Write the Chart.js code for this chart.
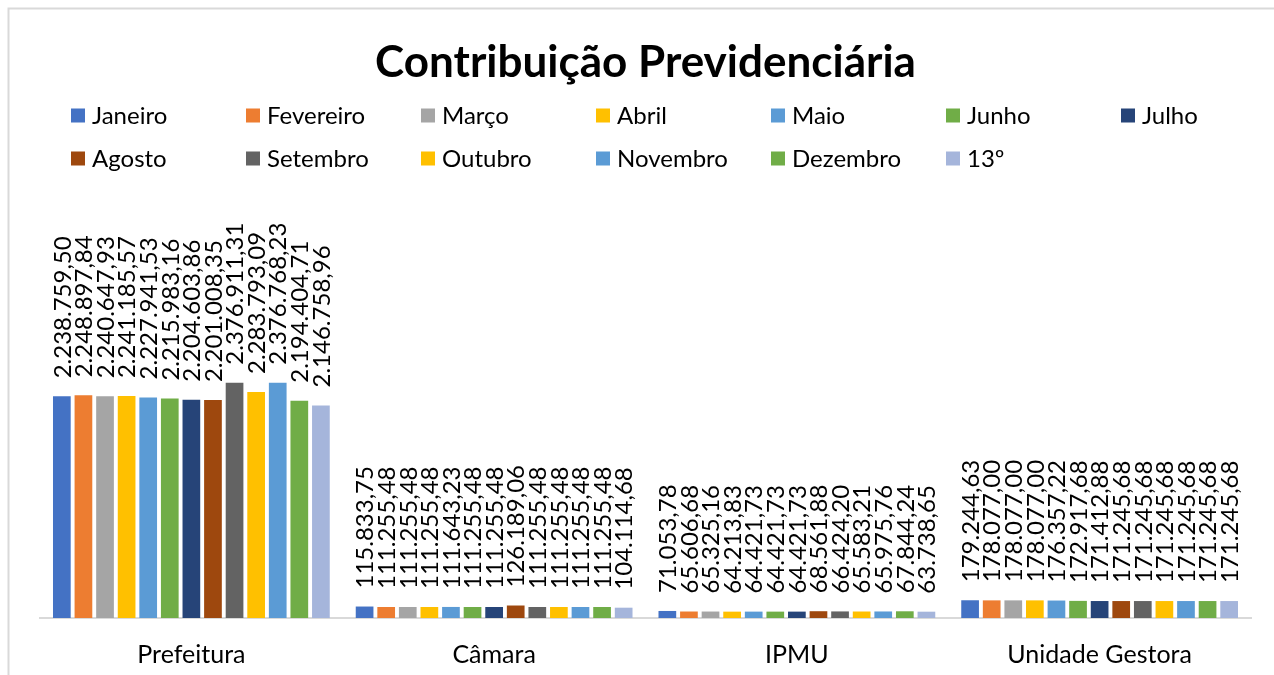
<!DOCTYPE html>
<html>
<head>
<meta charset="utf-8">
<title>Contribuição Previdenciária</title>
<script src="https://cdn.jsdelivr.net/npm/chart.js@4/dist/chart.umd.min.js"></script>
<style>
    html, body { margin: 0; padding: 0; background: #fff; }
    #wrap { width: 1274px; height: 675px; }
</style>
</head>
<body>
<div id="wrap"><canvas id="myChart" width="1274" height="675"></canvas></div>
<script>
//categories (orgaos)
const categories = ["Prefeitura", "Câmara", "IPMU", "Unidade Gestora"];

//months / series
const months = ["Janeiro", "Fevereiro", "Março", "Abril", "Maio", "Junho", "Julho",
    "Agosto", "Setembro", "Outubro", "Novembro", "Dezembro", "13º"];

const monthColors = ["#4472C4", "#ED7D31", "#A5A5A5", "#FFC000", "#5B9BD5", "#70AD47", "#264478",
    "#9E480E", "#636363", "#FFC000", "#5B9BD5", "#70AD47", "#A5B5DB"];

//values per orgao, one entry per month
const prefeitura = [2238759.50, 2248897.84, 2240647.93, 2241185.57, 2227941.53, 2215983.16, 2204603.86,
    2201008.35, 2376911.31, 2283793.09, 2376768.23, 2194404.71, 2146758.96];
const camara = [115833.75, 111255.48, 111255.48, 111255.48, 111643.23, 111255.48, 111255.48,
    126189.06, 111255.48, 111255.48, 111255.48, 111255.48, 104114.68];
const ipmu = [71053.78, 65606.68, 65325.16, 64213.83, 64421.73, 64421.73, 64421.73,
    68561.88, 66424.20, 65583.21, 65975.76, 67844.24, 63738.65];
const unidadeGestora = [179244.63, 178077.00, 178077.00, 178077.00, 176357.22, 172917.68, 171412.88,
    171245.68, 171245.68, 171245.68, 171245.68, 171245.68, 171245.68];

//value axis range (axis itself is hidden)
const yMin = 0;
const yMax = 4000000;

const FONT = "Lato, 'Open Sans', sans-serif";

//brazilian number format: 2.238.759,50
function fmt(v) {
    var parts = v.toFixed(2).split(".");
    var int = parts[0].replace(/\B(?=(\d{3})+(?!\d))/g, ".");
    return int + "," + parts[1];
}

//build one dataset per month
var datasets = [];
for (var i = 0; i < months.length; i++) {
    datasets.push({
        label: months[i],
        data: [prefeitura[i], camara[i], ipmu[i], unidadeGestora[i]],
        backgroundColor: monthColors[i],
        borderWidth: 0,
        categoryPercentage: 0.927,
        barPercentage: 0.82
    });
}

//frame, title and legend grid (7 per row)
const decorPlugin = {
    id: "decor",
    beforeDraw(chart) {
        const ctx = chart.ctx;
        ctx.save();
        ctx.fillStyle = "#fff";
        ctx.fillRect(0, 0, chart.width, chart.height);

        ctx.strokeStyle = "#d9d9d9";
        ctx.lineWidth = 2;
        ctx.beginPath();
        ctx.moveTo(8.5, chart.height);
        ctx.lineTo(8.5, 8.5);
        ctx.lineTo(chart.width, 8.5);
        ctx.stroke();

        //title
        const area = chart.chartArea;
        ctx.fillStyle = "#000";
        ctx.font = "bold 44px " + FONT;
        ctx.textAlign = "center";
        ctx.textBaseline = "alphabetic";
        ctx.fillText("Contribuição Previdenciária", (area.left + area.right) / 2, 77);

        //legend
        ctx.font = "24px " + FONT;
        ctx.textAlign = "left";
        ctx.textBaseline = "middle";
        chart.data.datasets.forEach((ds, idx) => {
            var col = idx % 7;
            var row = Math.floor(idx / 7);
            var x = 71 + col * 175;
            var y = 115.5 + row * 43;
            ctx.fillStyle = ds.backgroundColor;
            ctx.fillRect(x, y - 7, 14, 14);
            ctx.fillStyle = "#000";
            ctx.fillText(ds.label, x + 21, y + 1);
        });
        ctx.restore();
    }
};

//vertical value labels above each bar
const valueLabels = {
    id: "valueLabels",
    afterDatasetsDraw(chart) {
        const ctx = chart.ctx;
        ctx.save();
        ctx.fillStyle = "#000";
        ctx.font = "24px " + FONT;
        ctx.textAlign = "left";
        ctx.textBaseline = "middle";
        chart.data.datasets.forEach((ds, di) => {
            const meta = chart.getDatasetMeta(di);
            meta.data.forEach((bar, j) => {
                ctx.save();
                ctx.translate(bar.x + 1, bar.y - 18);
                ctx.rotate(-Math.PI / 2);
                ctx.fillText(fmt(ds.data[j]), 0, 0);
                ctx.restore();
            });
        });
        ctx.restore();
    }
};

const ctx = document.getElementById("myChart");
new Chart(ctx, {
    type: "bar",
    data: {
        labels: categories,
        datasets: datasets
    },
    options: {
        responsive: false,
        devicePixelRatio: 1,
        animation: false,
        layout: {
            padding: { left: 40, right: 23, top: 222, bottom: 7 }
        },
        plugins: {
            legend: { display: false },
            title: { display: false },
            tooltip: { enabled: false }
        },
        scales: {
            x: {
                grid: { display: false, drawTicks: false },
                border: { display: true, color: "#d9d9d9", width: 2 },
                ticks: {
                    color: "#000",
                    padding: 22,
                    font: { family: FONT, size: 25 }
                },
                //keep the category strip at a fixed height
                afterFit(scale) {
                    scale.height = 50;
                }
            },
            y: {
                display: false,
                min: yMin,
                max: yMax
            }
        }
    },
    plugins: [decorPlugin, valueLabels]
});
</script>
</body>
</html>
